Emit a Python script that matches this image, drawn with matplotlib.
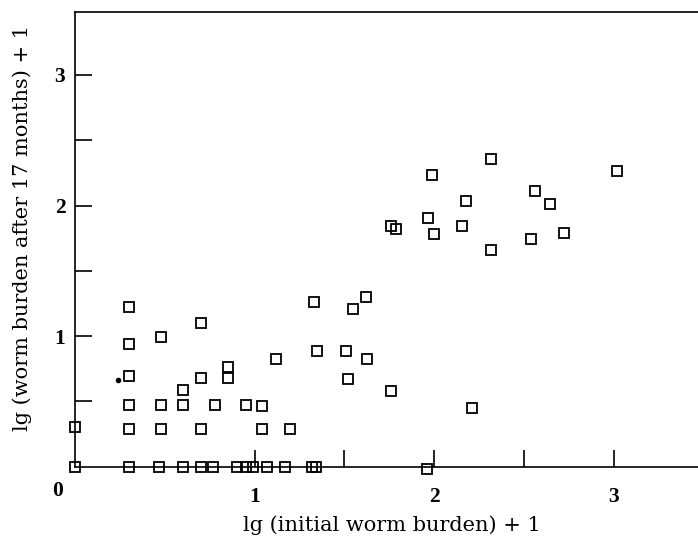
import matplotlib
matplotlib.use("Agg")
import matplotlib.pyplot as plt

# lg(initial worm burden)+1 and lg(worm burden after 17 months)+1
x_init = [0.00, 0.00,
          0.30, 0.30, 0.30, 0.30, 0.30, 0.30,
          0.48, 0.48, 0.48, 0.47,
          0.60, 0.60, 0.60,
          0.70, 0.70, 0.70, 0.70,
          0.77, 0.78,
          0.85, 0.85,
          0.90, 0.95, 0.95, 0.99,
          1.04, 1.04, 1.07,
          1.12, 1.17, 1.20,
          1.32, 1.33, 1.345, 1.35,
          1.51, 1.52, 1.55, 1.62, 1.625,
          1.76, 1.76, 1.786,
          1.965, 1.96, 1.99, 2.00,
          2.158, 2.18, 2.21,
          2.32, 2.32,
          2.54, 2.565, 2.645, 2.726,
          3.02]
y_final = [0.00, 0.30,
           1.22, 0.94, 0.69, 0.47, 0.29, 0.00,
           0.99, 0.47, 0.29, 0.00,
           0.59, 0.47, 0.00,
           1.10, 0.68, 0.29, 0.00,
           0.00, 0.47,
           0.765, 0.68,
           0.00, 0.47, 0.00, 0.00,
           0.46, 0.285, 0.00,
           0.82, 0.00, 0.285,
           0.00, 1.26, 0.00, 0.885,
           0.885, 0.67, 1.21, 1.30, 0.82,
           0.575, 1.845, 1.82,
           1.906, -0.02, 2.23, 1.784,
           1.843, 2.035, 0.45,
           2.356, 1.66,
           1.743, 2.11, 2.014, 1.79,
           2.264]

# stray dot left of the squares
dot_x = [0.24]
dot_y = [0.66]

x_ticks = [1, 1.5, 2, 2.5, 3]
x_tick_labels = ["1", "", "2", "", "3"]
y_ticks = [0.5, 1, 1.5, 2, 2.5, 3]
y_tick_labels = ["", "1", "", "2", "", "3"]

plt.rcParams['font.family'] = ['Liberation Serif', 'DejaVu Serif']

W, H = 698, 538
fig = plt.figure(figsize=(W / 100, H / 100), dpi=100)
ax = fig.add_axes([75 / W, (H - 466.5) / H, 623 / W, 454.5 / H])

ax.plot(x_init, y_final, linestyle="none", marker="s", markersize=6.5,
        markerfacecolor="none", markeredgecolor="black", markeredgewidth=1.3,
        clip_on=False, zorder=3)
ax.plot(dot_x, dot_y, linestyle="none", marker="o", markersize=3,
        color="black", zorder=3)

ax.set_xlim(0, 623 / 179.5)
ax.set_ylim(0, 454.5 / 130.5)

for side in ["left", "top", "bottom"]:
    ax.spines[side].set_linewidth(1.2)
ax.spines["right"].set_visible(False)

ax.set_xticks(x_ticks)
ax.set_xticklabels(x_tick_labels, fontweight="bold", fontsize=15.5)
ax.set_yticks(y_ticks)
ax.set_yticklabels(y_tick_labels, fontweight="bold", fontsize=15.5)
ax.tick_params(axis="x", direction="in", length=12, width=1.2, pad=15)
ax.tick_params(axis="y", direction="in", length=12, width=1.2, pad=7)

# corner label for the origin
ax.text(-0.095, -0.11, "0", fontweight="bold", fontsize=15.5,
        ha="center", va="top", clip_on=False)

ax.set_xlabel("lg (initial worm burden) + 1", family="DejaVu Serif",
              fontsize=15, va="center", ha="center")
ax.xaxis.set_label_coords(0.508, -0.129)
ax.set_ylabel("lg (worm burden after 17 months) + 1", family="DejaVu Serif",
              fontsize=15, va="center", ha="center")
ax.yaxis.set_label_coords(-0.085, 0.525)

fig.savefig("out.png", dpi=100)
